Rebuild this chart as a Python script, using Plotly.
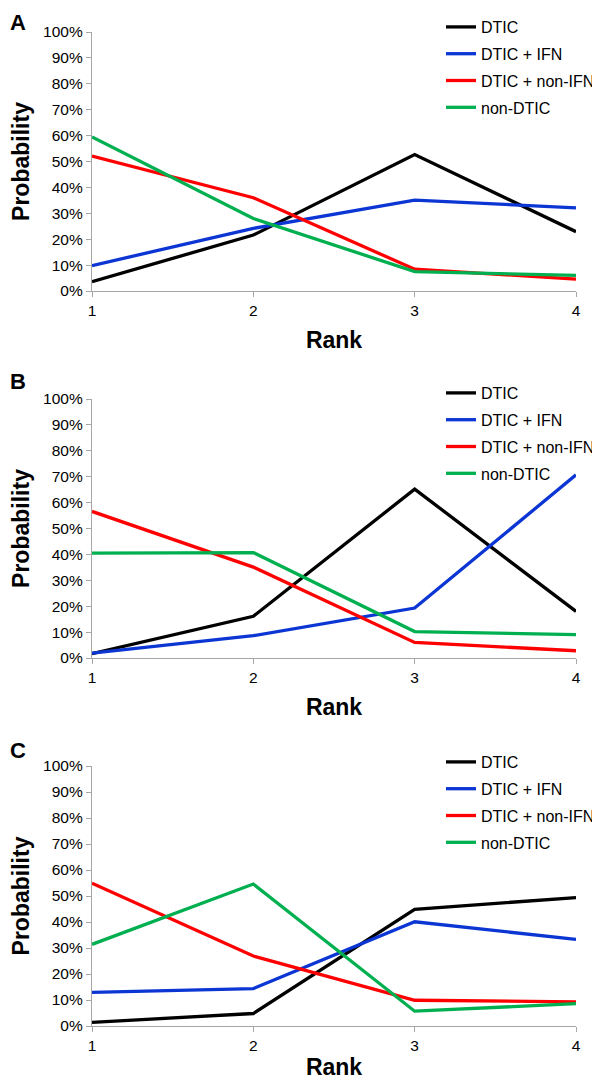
"""
Rank probabilities for four treatment classes, three panels (A, B, C).
"""
import plotly.graph_objects as go

RANKS = [1, 2, 3, 4]
SERIES_NAMES = ["DTIC", "DTIC + IFN", "DTIC + non-IFN", "non-DTIC"]
PANEL_LABELS = ["A", "B", "C"]

# probabilities per panel, per series (ranks 1..4)
PANEL_A = {
    "DTIC": [0.036, 0.216, 0.527, 0.229],
    "DTIC + IFN": [0.098, 0.242, 0.351, 0.321],
    "DTIC + non-IFN": [0.521, 0.360, 0.084, 0.046],
    "non-DTIC": [0.595, 0.280, 0.075, 0.060],
}
PANEL_B = {
    "DTIC": [0.017, 0.161, 0.652, 0.180],
    "DTIC + IFN": [0.019, 0.086, 0.193, 0.707],
    "DTIC + non-IFN": [0.566, 0.351, 0.060, 0.028],
    "non-DTIC": [0.405, 0.407, 0.102, 0.090],
}
PANEL_C = {
    "DTIC": [0.014, 0.048, 0.449, 0.494],
    "DTIC + IFN": [0.129, 0.144, 0.401, 0.333],
    "DTIC + non-IFN": [0.549, 0.269, 0.099, 0.093],
    "non-DTIC": [0.314, 0.546, 0.057, 0.086],
}
PANELS = [PANEL_A, PANEL_B, PANEL_C]

COLORS = {
    "DTIC": "#000000",
    "DTIC + IFN": "#0b36d4",
    "DTIC + non-IFN": "#ff0000",
    "non-DTIC": "#00b050",
}

FONT = "Liberation Sans, Arial, sans-serif"
AXIS_GRAY = "#a6a6a6"

# page body keeps its default 8px margin; size the figure so the page does not overflow
OFF = 8
W, H = 600 - OFF, 1090 - 2 * OFF

# layout targets in window pixels
PANEL_TOPS = [32, 399, 766]
PANEL_BOTTOMS = [291, 658, 1026]
LEGEND_TOPS = [10, 376, 745]
LETTER_TOPS = [8, 367, 736]
RANK_STANDOFF = [14, 14, 6]
X_LEFT, X_RIGHT = 92, 576
LEGEND_LEFT = 441


def fx(px):
    return (px - OFF) / W


def fy(py):
    return 1 - (py - OFF) / H


fig = go.Figure()
layout = {}
for i, (panel, label) in enumerate(zip(PANELS, PANEL_LABELS)):
    n = "" if i == 0 else str(i + 1)
    legend_name = "legend" + n
    for name in SERIES_NAMES:
        fig.add_trace(
            go.Scatter(
                x=RANKS,
                y=panel[name],
                mode="lines",
                name=name,
                line=dict(color=COLORS[name], width=3.3),
                xaxis="x" + n,
                yaxis="y" + n,
                legend=legend_name,
                legendgroup=f"{label}-{name}",
                hoverinfo="skip",
            )
        )

    top, bot = PANEL_TOPS[i], PANEL_BOTTOMS[i]
    layout["xaxis" + n] = dict(
        domain=[fx(X_LEFT), fx(X_RIGHT)],
        anchor="y" + n,
        range=[1, 4],
        tickvals=RANKS,
        ticks="outside",
        ticklen=5,
        tickcolor=AXIS_GRAY,
        showline=True,
        linecolor=AXIS_GRAY,
        linewidth=1.3,
        showgrid=False,
        zeroline=False,
        automargin=False,
        tickfont=dict(family=FONT, size=15.5, color="#000000"),
        title=dict(
            text="<b>Rank</b>",
            font=dict(family=FONT, size=23, color="#000000"),
            standoff=RANK_STANDOFF[i],
        ),
    )
    layout["yaxis" + n] = dict(
        domain=[fy(bot), fy(top)],
        anchor="x" + n,
        range=[0, 1],
        dtick=0.1,
        tickformat=".0%",
        ticks="outside",
        ticklen=5,
        tickcolor=AXIS_GRAY,
        showline=True,
        linecolor=AXIS_GRAY,
        linewidth=1.3,
        showgrid=False,
        zeroline=False,
        automargin=False,
        tickfont=dict(family=FONT, size=15.5, color="#000000"),
        title=dict(
            text="<b>Probability</b>",
            font=dict(family=FONT, size=23, color="#000000"),
            standoff=8,
        ),
    )
    layout[legend_name] = dict(
        x=fx(LEGEND_LEFT),
        xanchor="left",
        y=fy(LEGEND_TOPS[i]),
        yanchor="top",
        bgcolor="rgba(0,0,0,0)",
        font=dict(family=FONT, size=16, color="#000000"),
        tracegroupgap=3,
        itemclick=False,
    )
    fig.add_annotation(
        text=f"<b>{label}</b>",
        x=0,
        xanchor="left",
        y=fy(LETTER_TOPS[i]),
        yanchor="top",
        xref="paper",
        yref="paper",
        showarrow=False,
        font=dict(family=FONT, size=22, color="#000000"),
    )

fig.update_layout(
    **layout,
    width=W,
    height=H,
    margin=dict(l=0, r=0, t=0, b=0, autoexpand=False),
    paper_bgcolor="white",
    plot_bgcolor="white",
    showlegend=True,
)

fig.write_html("out.html")
